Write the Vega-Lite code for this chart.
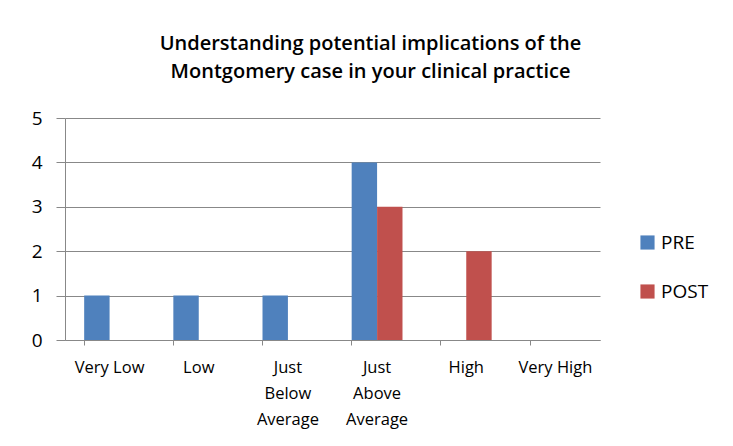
{
  "$schema": "https://vega.github.io/schema/vega-lite/v6.json",
  "autosize": "none",
  "width": 535,
  "height": 222,
  "padding": {"left": 65, "top": 118, "right": 133, "bottom": 106},
  "background": "white",
  "title": {
    "text": ["Understanding potential implications of the", "Montgomery case in your clinical practice"],
    "font": "Open Sans",
    "fontSize": 20,
    "fontWeight": 600,
    "color": "#000000",
    "lineHeight": 28,
    "anchor": "middle",
    "frame": "group",
    "dx": 38,
    "offset": 27
  },
  "data": {
    "values": [
      {"level": "Very Low", "series": "PRE", "count": 1},
      {"level": "Very Low", "series": "POST", "count": 0},
      {"level": "Low", "series": "PRE", "count": 1},
      {"level": "Low", "series": "POST", "count": 0},
      {"level": "Just Below Average", "series": "PRE", "count": 1},
      {"level": "Just Below Average", "series": "POST", "count": 0},
      {"level": "Just Above Average", "series": "PRE", "count": 4},
      {"level": "Just Above Average", "series": "POST", "count": 3},
      {"level": "High", "series": "PRE", "count": 0},
      {"level": "High", "series": "POST", "count": 2},
      {"level": "Very High", "series": "PRE", "count": 0},
      {"level": "Very High", "series": "POST", "count": 0}
    ]
  },
  "mark": {"type": "bar"},
  "encoding": {
    "x": {
      "field": "level",
      "type": "nominal",
      "sort": ["Very Low", "Low", "Just Below Average", "Just Above Average", "High", "Very High"],
      "scale": {"paddingInner": 0.43, "paddingOuter": 0.215},
      "axis": {
        "title": null,
        "labelAngle": 0,
        "labelExpr": "datum.value == 'Just Below Average' ? ['Just', 'Below', 'Average'] : datum.value == 'Just Above Average' ? ['Just', 'Above', 'Average'] : datum.value",
        "labelFont": "Open Sans",
        "labelFontSize": 16.5,
        "labelColor": "#000000",
        "labelLineHeight": 26,
        "labelPadding": 14,
        "bandPosition": 0,
        "tickSize": 5,
        "tickColor": "#888888",
        "domainColor": "#888888",
        "grid": false
      }
    },
    "xOffset": {"field": "series", "type": "nominal", "sort": ["PRE", "POST"]},
    "y": {
      "field": "count",
      "type": "quantitative",
      "scale": {"domain": [0, 5], "nice": false},
      "axis": {
        "title": null,
        "values": [0, 1, 2, 3, 4, 5],
        "labelOverlap": false,
        "labelFont": "Open Sans",
        "labelFontSize": 19,
        "labelColor": "#000000",
        "labelPadding": 14,
        "tickSize": 9,
        "tickColor": "#888888",
        "domainColor": "#888888",
        "gridColor": "#888888",
        "gridWidth": 1
      }
    },
    "color": {
      "field": "series",
      "type": "nominal",
      "sort": ["PRE", "POST"],
      "scale": {"domain": ["PRE", "POST"], "range": ["#4F81BD", "#C0504D"]},
      "legend": {
        "title": null,
        "orient": "none",
        "legendX": 573,
        "legendY": 115,
        "symbolType": "square",
        "symbolSize": 200,
        "symbolStrokeWidth": 0,
        "labelFont": "Open Sans",
        "labelFontSize": 19,
        "labelColor": "#000000",
        "rowPadding": 29
      }
    }
  },
  "config": {
    "view": {"stroke": null}
  }
}
